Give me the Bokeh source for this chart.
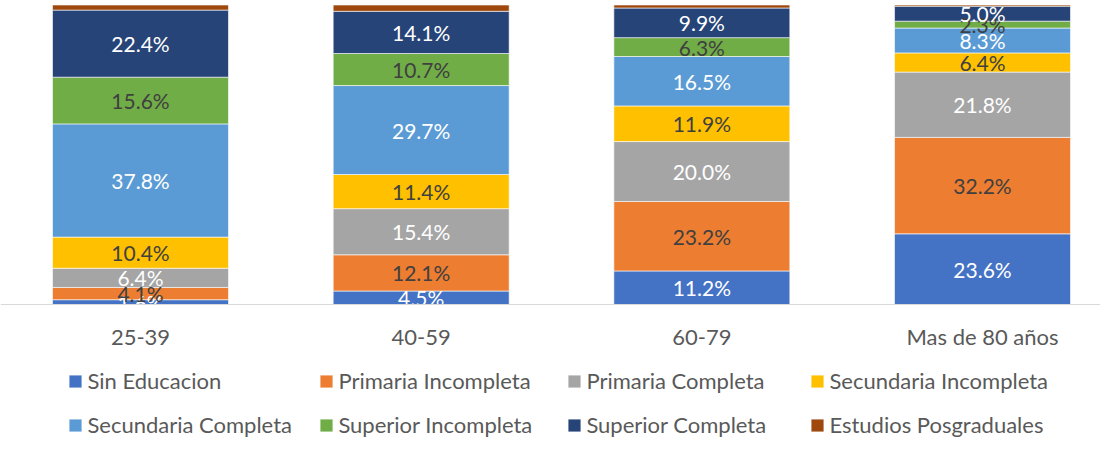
from bokeh.plotting import figure
from bokeh.models import Range1d, Legend, LegendItem, ColumnDataSource, FixedTicker, LinearAxis
from bokeh.embed import file_html
from bokeh.resources import INLINE
from bokeh.core.properties import value

categories = ["25-39", "40-59", "60-79", "Mas de 80 años"]
series_names = ["Sin Educacion", "Primaria Incompleta", "Primaria Completa",
                "Secundaria Incompleta", "Secundaria Completa", "Superior Incompleta",
                "Superior Completa", "Estudios Posgraduales"]
sin_educacion = [1.6, 4.5, 11.2, 23.6]
primaria_incompleta = [4.1, 12.1, 23.2, 32.2]
primaria_completa = [6.4, 15.4, 20.0, 21.8]
secundaria_incompleta = [10.4, 11.4, 11.9, 6.4]
secundaria_completa = [37.8, 29.7, 16.5, 8.3]
superior_incompleta = [15.6, 10.7, 6.3, 2.3]
superior_completa = [22.4, 14.1, 9.9, 5.0]
estudios_posgraduales = [1.7, 2.1, 1.0, 0.4]

series_values = [sin_educacion, primaria_incompleta, primaria_completa, secundaria_incompleta,
                 secundaria_completa, superior_incompleta, superior_completa, estudios_posgraduales]
colors = ["#4472C4", "#ED7D31", "#A5A5A5", "#FFC000", "#5B9BD5", "#70AD47", "#264478", "#9E480E"]
label_colors = ["#FFFFFF", "#404040", "#FFFFFF", "#404040", "#FFFFFF", "#404040", "#FFFFFF", None]

FONT = "Lato"
xs = list(range(len(categories)))
keys = ["s%d" % i for i in range(len(series_names))]
data = {"x": xs}
for k, v in zip(keys, series_values):
    data[k] = v
source = ColumnDataSource(data)

p = figure(width=1100, height=438, x_range=Range1d(-0.4988, 3.4204), y_range=Range1d(-44.74, 101.5),
           output_backend="svg", toolbar_location=None, min_border=0,
           x_axis_location=None, y_axis_location=None)
p.min_border_left = 0
p.min_border_right = 0
p.min_border_top = 0
p.min_border_bottom = 0

renderers = p.vbar_stack(keys, x="x", width=0.627, color=colors, source=source,
                         line_color="white", line_width=0.6)

# segment labels
lx, ly, lt, lc = [], [], [], []
for i in range(len(categories)):
    base = 0.0
    for s, vals in enumerate(series_values):
        v = vals[i]
        if label_colors[s] is not None:
            lx.append(xs[i])
            ly.append(base + v / 2.0)
            lt.append("%.1f%%" % v)
            lc.append(label_colors[s])
        base += v
lab_src = ColumnDataSource(dict(x=lx, y=ly, t=lt, c=lc))
p.text(x="x", y="y", text="t", text_color="c", source=lab_src, text_align="center",
       text_baseline="middle", text_font=value(FONT), text_font_size="21px")

p.grid.visible = False
p.outline_line_color = None

xaxis = LinearAxis(fixed_location=0)
xaxis.ticker = FixedTicker(ticks=xs)
xaxis.major_label_overrides = {x: c for x, c in zip(xs, categories)}
xaxis.major_tick_line_color = None
xaxis.minor_tick_line_color = None
xaxis.axis_line_color = "#D9D9D9"
xaxis.axis_line_width = 1
xaxis.major_label_text_font = FONT
xaxis.major_label_text_font_size = "22px"
xaxis.major_label_text_color = "#595959"
xaxis.major_label_standoff = 12
p.add_layout(xaxis, "below")


def make_legend(items, x):
    lg = Legend(items=items, orientation="vertical", location=(x, 0))
    lg.label_text_font = FONT
    lg.label_text_font_size = "22px"
    lg.label_text_color = "#595959"
    lg.glyph_width = 16
    lg.glyph_height = 16
    lg.label_standoff = 4
    lg.label_height = 22
    lg.spacing = 17
    lg.padding = 0
    lg.margin = 0
    lg.border_line_color = None
    lg.background_fill_alpha = 0
    return lg


items = [LegendItem(label=n, renderers=[r]) for n, r in zip(series_names, renderers)]
legend_x = [67.4, 318.4, 566.4, 809.4]
for c in range(4):
    p.add_layout(make_legend([items[c], items[c + 4]], legend_x[c]))

open("out.html", "w").write(file_html(p, INLINE))
